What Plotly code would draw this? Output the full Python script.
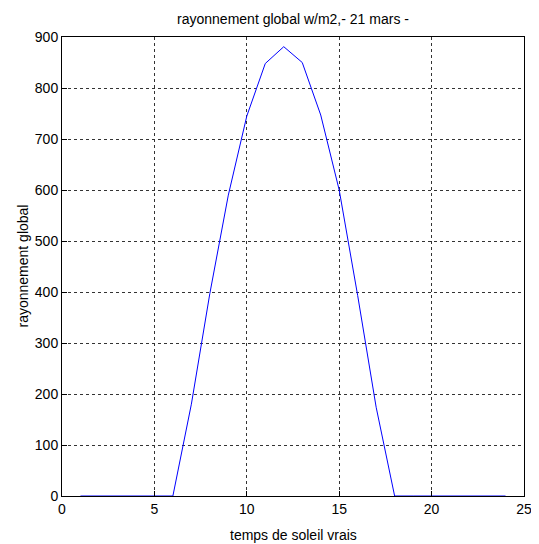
import plotly.graph_objects as go

hours = list(range(1, 25))
rayonnement = [0, 0, 0, 0, 0, 0, 180, 397, 590, 745, 848, 881,
               850, 747, 600, 393, 174, 0, 0, 0, 0, 0, 0, 0]
x_ticks = [0, 5, 10, 15, 20, 25]
y_ticks = [0, 100, 200, 300, 400, 500, 600, 700, 800, 900]

font = dict(family="Liberation Sans, Arial, sans-serif", size=14, color="black")

fig = go.Figure(go.Scatter(x=hours, y=rayonnement, mode="lines",
                           line=dict(color="#0000ff", width=1)))

axis_common = dict(showline=True, linecolor="black", linewidth=1, mirror=True,
                   ticks="inside", ticklen=5, tickcolor="black",
                   showgrid=True, gridcolor="#333333", gridwidth=1, griddash="3px,3px",
                   zeroline=False, tickfont=font, automargin=False)

fig.update_xaxes(range=[0, 25], tickvals=x_ticks, **axis_common)
fig.update_yaxes(range=[0, 900], tickvals=y_ticks, **axis_common)

# page has an 8px body margin: figure occupies 531x536 of the 539x544 window
W, H = 531, 536
fig.update_layout(
    width=W, height=H,
    margin=dict(l=54, r=15, t=29, b=48),
    paper_bgcolor="white", plot_bgcolor="white",
    showlegend=False,
    title=dict(text="rayonnement global w/m2,- 21 mars -", font=font,
               x=(54 + 516) / 2 / W, xanchor="center", y=1 - 11 / H, yanchor="middle"),
    annotations=[
        dict(text="temps de soleil vrais", xref="paper", yref="paper", x=0.5, y=0,
             xanchor="center", yanchor="middle", yshift=-39, showarrow=False, font=font),
        dict(text="rayonnement global", xref="paper", yref="paper", x=0, y=0.5,
             xanchor="center", yanchor="middle", xshift=-40, textangle=-90,
             showarrow=False, font=font),
    ],
)

fig.write_html("out.html")
